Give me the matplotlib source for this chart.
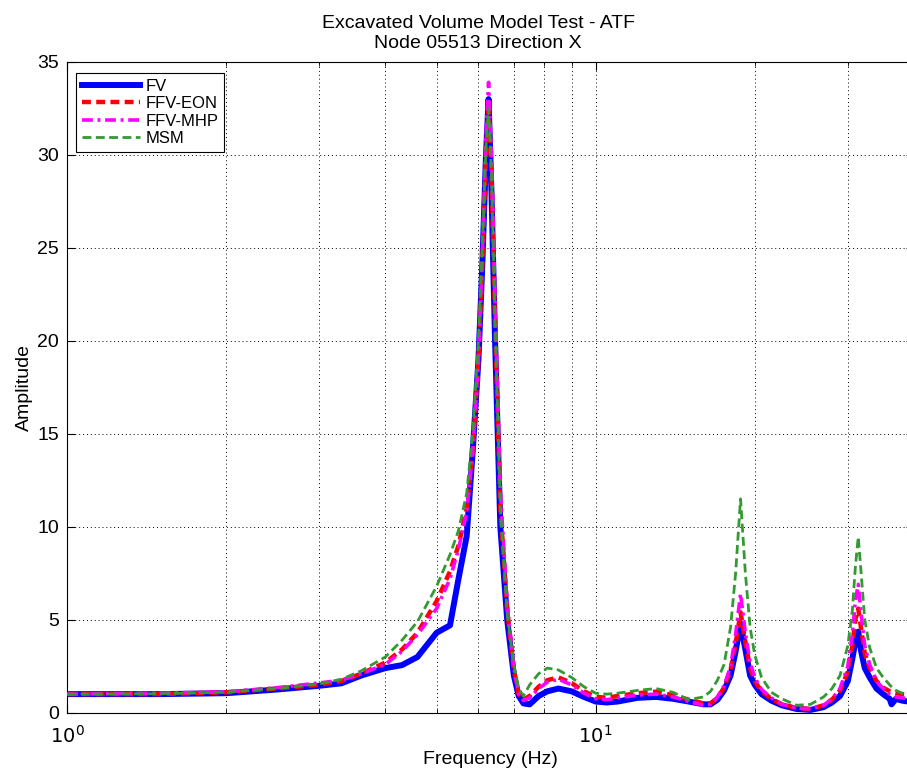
import matplotlib
matplotlib.use("Agg")
import matplotlib.pyplot as plt
from matplotlib.ticker import LogLocator, NullFormatter, FixedLocator

plt.rcParams['font.family'] = ['Liberation Sans', 'DejaVu Sans']

freq = [1.0, 1.5, 2.0, 2.5, 3.0, 3.3, 3.6, 4.0, 4.3, 4.6, 5.0, 5.3, 5.5, 5.7, 5.85,
        6.0, 6.1, 6.2, 6.27, 6.35, 6.45, 6.6, 6.8, 7.0, 7.15, 7.3, 7.5, 7.8, 8.1, 8.5,
        9.0, 9.5, 10.0, 10.5, 11.0, 12.0, 13.0, 14.0, 15.0, 16.0, 16.5, 17.0, 17.5,
        18.0, 18.4, 18.8, 19.2, 19.6, 20.0, 20.6, 21.5, 22.5, 24.0, 25.5, 27.0, 28.0,
        29.0, 30.0, 30.6, 31.0, 31.4, 31.8, 32.3, 33.0, 34.0, 35.0, 36.0, 36.3, 37.0,
        38.0, 39.0]

fv = [1.0, 1.0, 1.05, 1.25, 1.45, 1.58, 2.0, 2.4, 2.56, 3.0, 4.3, 4.7, 7.2, 9.5, 14.0,
      19.0, 24.0, 30.0, 33.0, 28.0, 20.0, 10.0, 5.0, 2.0, 0.9, 0.5, 0.45, 0.9, 1.15, 1.3,
      1.15, 0.85, 0.6, 0.55, 0.6, 0.8, 0.85, 0.75, 0.6, 0.45, 0.45, 0.7, 1.2,
      2.0, 3.3, 4.8, 3.4, 2.0, 1.5, 1.0, 0.65, 0.4, 0.2, 0.15, 0.3, 0.55,
      0.9, 1.7, 2.9, 3.8, 4.36, 3.3, 2.4, 1.9, 1.3, 1.0, 0.75, 0.45, 0.75,
      0.65, 0.6]

ffv_eon = [1.0, 1.0, 1.1, 1.3, 1.5, 1.7, 2.1, 2.7, 3.4, 4.3, 6.0, 7.6, 9.0, 11.0, 14.0,
           19.0, 24.0, 30.0, 32.8, 29.0, 21.0, 11.0, 5.5, 2.3, 1.0, 0.7, 0.9, 1.4, 1.75, 1.9,
           1.6, 1.15, 0.86, 0.8, 0.9, 1.05, 1.13, 0.95, 0.7, 0.5, 0.5, 0.8, 1.35,
           2.3, 3.7, 5.4, 3.8, 2.4, 1.7, 1.15, 0.75, 0.45, 0.25, 0.2, 0.4, 0.7,
           1.2, 2.2, 3.6, 5.0, 5.6, 4.5, 3.2, 2.4, 1.7, 1.35, 1.15, 1.1, 1.05,
           1.0, 0.98]

ffv_mhp = [1.0, 1.05, 1.12, 1.35, 1.6, 1.75, 2.1, 2.6, 3.3, 4.2, 5.6, 7.2, 8.8, 10.8, 14.0,
           19.0, 24.5, 31.0, 33.9, 30.0, 22.0, 12.0, 5.8, 2.4, 1.0, 0.65, 0.8, 1.3, 1.65, 1.8,
           1.5, 1.05, 0.75, 0.7, 0.8, 0.95, 1.0, 0.85, 0.6, 0.4, 0.45, 0.85, 1.45,
           2.5, 4.2, 6.4, 4.3, 2.7, 1.9, 1.25, 0.8, 0.45, 0.25, 0.2, 0.4, 0.75,
           1.3, 2.5, 4.2, 6.0, 6.9, 5.3, 3.6, 2.6, 1.7, 1.3, 1.0, 0.95, 0.85,
           0.8, 0.75]

msm = [1.0, 1.02, 1.1, 1.3, 1.55, 1.8, 2.25, 3.0, 3.9, 4.9, 6.8, 8.5, 9.8, 11.8, 15.0,
       20.0, 25.0, 30.5, 32.5, 29.0, 21.0, 11.0, 5.3, 2.6, 1.3, 0.9, 1.5, 2.1, 2.4, 2.3,
       1.9, 1.4, 1.05, 1.0, 1.05, 1.2, 1.3, 1.1, 0.7, 0.85, 1.15, 1.75, 2.6,
       4.6, 7.5, 11.5, 7.5, 4.6, 3.1, 1.9, 1.1, 0.75, 0.4, 0.45, 0.85, 1.3,
       2.0, 3.6, 5.5, 7.8, 9.46, 7.5, 5.0, 3.5, 2.4, 1.9, 1.5, 1.4, 1.2,
       1.05, 0.95]

labels = ['FV', 'FFV-EON', 'FFV-MHP', 'MSM']

fig = plt.figure(figsize=(9.07, 7.72), dpi=100)
ax = fig.add_axes([0.0742, 0.0768, 1.0075 - 0.0742, 0.843])

ax.plot(freq, fv, color='#0000ff', lw=4.3, ls='-', label=labels[0], zorder=2)
ax.plot(freq, ffv_eon, color='#ff0000', lw=3.2, ls=(0, (2.0, 1.2)), label=labels[1], zorder=3)
ax.plot(freq, ffv_mhp, color='#ff00ff', lw=2.6, ls=(0, (3.0, 1.3, 0.8, 1.3)), label=labels[2], zorder=4)
ax.plot(freq, msm, color='#339933', lw=2.0, ls=(0, (3.2, 1.6)), label=labels[3], zorder=5)

ax.set_xscale('log')
ax.set_xlim(1, 40)
ax.set_ylim(0, 35)
ax.set_yticks([0, 5, 10, 15, 20, 25, 30, 35])
ax.xaxis.set_major_locator(FixedLocator([1, 10]))
ax.xaxis.set_minor_locator(LogLocator(base=10, subs=range(2, 10)))
ax.xaxis.set_minor_formatter(NullFormatter())
ax.set_xticklabels([r'$10^0$', r'$10^1$'])

ax.grid(True, which='major', axis='both', color='black', ls=(0, (1, 3)), lw=0.7)
ax.grid(True, which='minor', axis='x', color='black', ls=(0, (1, 3)), lw=0.7)
ax.tick_params(which='both', direction='in', top=True, right=True, labelsize=14)
ax.tick_params(which='major', length=6)
ax.tick_params(which='minor', length=3)
ax.tick_params(axis='x', which='major', pad=9)
ax.tick_params(axis='y', which='major', pad=6)
for s in ax.spines.values():
    s.set_linewidth(0.8)

ax.set_xlabel('Frequency (Hz)', fontsize=14, labelpad=3)
ax.set_ylabel('Amplitude', fontsize=14, labelpad=3)
ax.set_title('Excavated Volume Model Test - ATF\nNode 05513 Direction X', fontsize=14,
             x=0.4855, linespacing=1.25, pad=10)

leg = ax.legend(loc='upper left', fontsize=12, frameon=True, fancybox=False,
                edgecolor='black', framealpha=1, handlelength=3.5, handletextpad=0.3,
                borderpad=0.35, labelspacing=0.15, borderaxespad=0.0,
                bbox_to_anchor=(0.0106, 0.983))
leg.get_frame().set_linewidth(0.8)

fig.savefig('out.png', dpi=100)
